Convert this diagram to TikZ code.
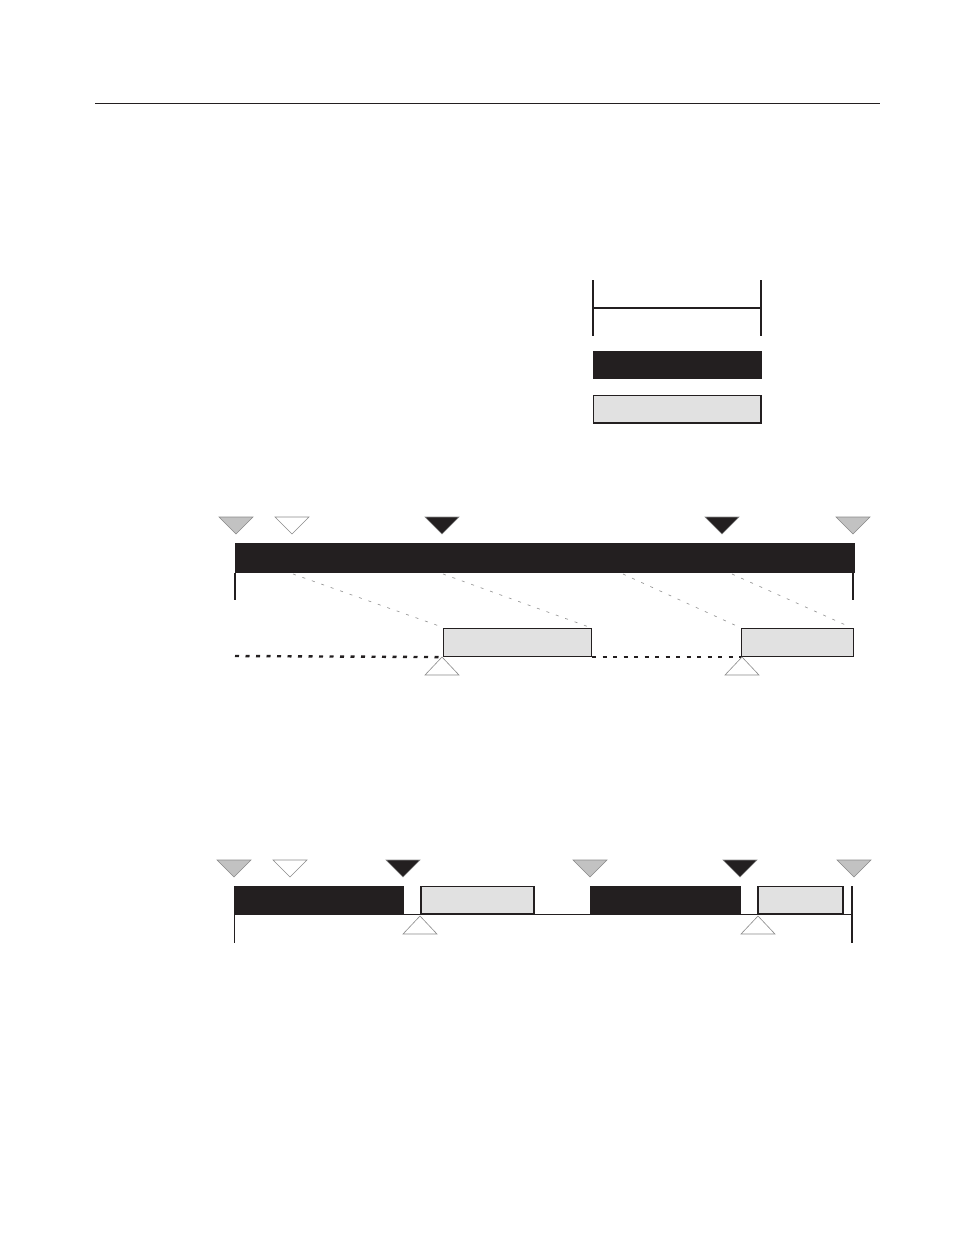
\documentclass[tikz,border=0pt]{standalone}
\usetikzlibrary{calc}
\definecolor{barblack}{HTML}{231F20}
\definecolor{boxgrey}{HTML}{E1E1E1}
\definecolor{markgrey}{HTML}{C2C2C2}
\definecolor{rimgrey}{HTML}{8A8A8A}
\definecolor{lightdash}{HTML}{9A9A9A}
\tikzset{
  runbar/.style={
    fill=barblack,
    draw=none
  },
  waitbox/.style={
    fill=boxgrey,
    draw=barblack,
    line width=1.1pt
  },
  downmark/.style={
    fill=#1,
    draw=rimgrey,
    line width=0.6pt
  },
  upmark/.style={
    fill=white,
    draw=rimgrey,
    line width=0.6pt
  },
  tick/.style={
    draw=barblack,
    line width=#1
  },
  handoff/.style={
    draw=lightdash,
    line width=0.7pt,
    dash pattern=on 3pt off 7pt
  },
  idle/.style={
    draw=barblack,
    line width=2.4pt,
    dash pattern=on 4pt off 6.5pt
  }
}

\begin{document}
\begin{tikzpicture}[x=1pt,y=-1pt]
\useasboundingbox (0,0) rectangle (954,1235);
\draw[tick=0.9pt] (95,103) -- (880,103);
% key
\draw[tick=1.5pt] (593,280) -- (593,336);
\draw[tick=1.5pt] (761,280) -- (761,336);
\draw[tick=1.5pt] (593,308) -- (761,308);
\path[runbar] (593,351) rectangle (762,379);
\path[waitbox] (593.5,395.5) rectangle (761,423);
% first timeline
\foreach \tip/\colour in {%
  236/markgrey,
  292/white,
  442/barblack,
  722/barblack,
  853/markgrey%
} {
  \path[downmark=\colour] (\tip,534) -- ++(-17,-17) -- ++(34,0) -- cycle;
}
\path[runbar] (235,543) rectangle (855,573);
\draw[tick=1.2pt] (235,573) -- (235,600);
\draw[tick=1.2pt] (853,573) -- (853,600);
\coordinate (lead) at (235,656);
\node[waitbox,inner sep=0pt,anchor=north west,minimum width=148pt,minimum height=28pt] (wait1) at (443,628) {};
\node[waitbox,inner sep=0pt,anchor=north west,minimum width=112pt,minimum height=28pt] (wait2) at (741,628) {};
\foreach \from/\to in {%
  293/442,
  443/589,
  623/739,
  732/850%
} {
  \draw[handoff] (\from,574) -- (\to,627);
}
\draw[idle] (lead) -- (wait1.south west);
\draw[idle] (wait1.south east) -- (wait2.south west);
\foreach \tip in {442,742} {
  \path[upmark] (\tip,657) -- ++(-17,18) -- ++(34,0) -- cycle;
}
% second timeline
\foreach \tip/\colour in {%
  234/markgrey,
  290/white,
  403/barblack,
  590/markgrey,
  740/barblack,
  854/markgrey%
} {
  \path[downmark=\colour] (\tip,877) -- ++(-17,-17) -- ++(34,0) -- cycle;
}
\coordinate (start) at (234,914);
\coordinate (stop) at (852,914);
\draw[tick=0.9pt] (start) -- (stop);
\path[runbar] (234,886) rectangle (404,914.5);
\path[runbar] (590,886) rectangle (741,914.5);
\path[waitbox] (421,886.5) rectangle (534,914);
\path[waitbox] (758,886.5) rectangle (843,914);
\draw[tick=1pt] (start) -- ++(0,29);
\draw[tick=2pt] (852,886) -- (852,943);
\foreach \tip in {420,758} {
  \path[upmark] (\tip,916) -- ++(-17,18) -- ++(34,0) -- cycle;
}
\end{tikzpicture}
\end{document}
